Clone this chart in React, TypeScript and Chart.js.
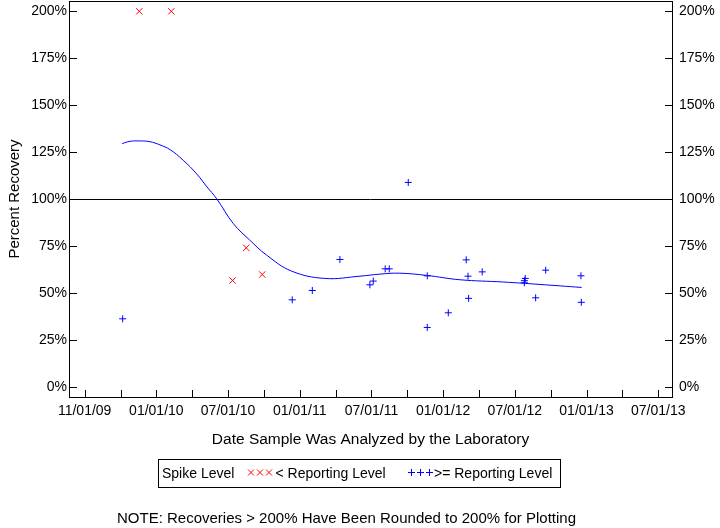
import React, { useEffect, useRef } from 'react';
import { Chart, registerables } from 'chart.js';

Chart.register(...registerables);

// X axis: positions in months from the first labelled tick; labels every 6 months
const xTickLabels = ['11/01/09', '01/01/10', '07/01/10', '01/01/11', '07/01/11', '01/01/12', '07/01/12', '01/01/13', '07/01/13'];
const xMin = -1.31;
const xMax = 49.15;
const yTickValues = [0, 25, 50, 75, 100, 125, 150, 175, 200];
const yMin = -5.32;
const yMax = 205.5;
const referenceLevel = 100;

// "< Reporting Level" (red x)
const lowMonths = [4.57, 7.25, 12.38, 13.52, 14.86];
const lowValues = [200, 200, 56.7, 74.1, 59.9];

// ">= Reporting Level" (blue +)
const highMonths = [3.18, 17.37, 19.05, 21.36, 23.87, 24.15, 25.15, 25.49, 27.08, 28.67, 28.67, 30.43, 31.93, 32.08, 32.13, 33.27, 36.79, 36.8, 36.87, 37.74, 38.58, 41.53, 41.56];
const highValues = [36.3, 46.4, 51.4, 67.9, 54.4, 56.4, 62.9, 62.9, 108.9, 59.2, 31.7, 39.5, 67.7, 59.0, 47.2, 61.3, 55.5, 56.6, 57.8, 47.5, 62.2, 59.2, 45.1];

// smoothed trend
const trendMonths = [3.15, 3.8, 4.6, 5.46, 6.3, 7.14, 8.25, 9.37, 10.2, 11.05, 12.44, 13.8, 15.23, 17.32, 20.1, 23.04, 24.71, 26.38, 28.62, 31.4, 35.03, 38.1, 41.59];
const trendValues = [129.6, 130.8, 131.0, 130.6, 128.9, 126.4, 120.7, 113.5, 106.8, 100.2, 87.0, 78.3, 70.2, 61.7, 57.8, 59.0, 60.1, 60.6, 59.4, 57.1, 55.9, 54.6, 53.0];

const FONT = "'Liberation Sans', Arial, Helvetica, sans-serif";
const RED = '#ff0000';
const BLUE = '#0000ff';

const toPoints = (xs: number[], ys: number[]) => xs.map((x, i) => ({ x, y: ys[i] }));

const framePlugin = {
  id: 'framePlugin',
  beforeDatasetsDraw(chart: any) {
    const { ctx, chartArea, scales } = chart;
    const y = Math.round(scales.y.getPixelForValue(referenceLevel)) + 0.5;
    ctx.save();
    ctx.strokeStyle = '#000';
    ctx.lineWidth = 1;
    ctx.beginPath();
    ctx.moveTo(chartArea.left, y);
    ctx.lineTo(chartArea.right, y);
    ctx.stroke();
    ctx.restore();
  },
  afterDraw(chart: any) {
    const { ctx, chartArea, scales } = chart;
    const { left, right, top, bottom } = chartArea;
    ctx.save();
    ctx.strokeStyle = '#000';
    ctx.lineWidth = 1;
    ctx.strokeRect(left + 0.5, top + 0.5, right - left, bottom - top);
    ctx.beginPath();
    scales.x.ticks.forEach((t: any) => {
      const px = Math.round(scales.x.getPixelForValue(t.value)) + 0.5;
      ctx.moveTo(px, bottom + 0.5);
      ctx.lineTo(px, bottom - 7);
    });
    scales.y.ticks.forEach((t: any) => {
      const py = Math.round(scales.y.getPixelForValue(t.value)) + 0.5;
      ctx.moveTo(left, py);
      ctx.lineTo(left + 8, py);
      ctx.moveTo(right + 1, py);
      ctx.lineTo(right - 7, py);
    });
    ctx.stroke();

    // legend box
    ctx.strokeRect(158.5, 459.5, 402, 28);
    ctx.fillStyle = '#000';
    ctx.font = `14px ${FONT}`;
    ctx.textBaseline = 'middle';
    ctx.textAlign = 'left';
    ctx.fillText('Spike Level', 162, 474);
    ctx.fillText('< Reporting Level', 275.5, 474);
    ctx.fillText('>= Reporting Level', 434, 474);
    ctx.strokeStyle = RED;
    ctx.beginPath();
    [251, 260, 269].forEach((cx) => {
      ctx.moveTo(cx - 3, 469.5);
      ctx.lineTo(cx + 3, 475.5);
      ctx.moveTo(cx + 3, 469.5);
      ctx.lineTo(cx - 3, 475.5);
    });
    ctx.stroke();
    ctx.strokeStyle = BLUE;
    ctx.beginPath();
    [411.5, 420.5, 429.5].forEach((cx) => {
      ctx.moveTo(cx - 3.5, 472.5);
      ctx.lineTo(cx + 3.5, 472.5);
      ctx.moveTo(cx, 469);
      ctx.lineTo(cx, 476);
    });
    ctx.stroke();

    // note
    ctx.fillStyle = '#000';
    ctx.font = `15px ${FONT}`;
    ctx.textAlign = 'center';
    ctx.fillText('NOTE: Recoveries > 200% Have Been Rounded to 200% for Plotting', 346.5, 519);
    ctx.restore();
  },
};

const fixedYTicks = (scale: any) => {
  scale.ticks = yTickValues.map((v) => ({ value: v }));
};

const noPad = (scale: any) => {
  scale.paddingTop = 0;
  scale.paddingBottom = 0;
  scale.paddingLeft = 0;
  scale.paddingRight = 0;
};

export default function App() {
  const ref = useRef<HTMLCanvasElement | null>(null);

  useEffect(() => {
    if (!ref.current) return;
    const chart = new Chart(ref.current, {
      type: 'scatter',
      data: {
        datasets: [
          {
            label: 'Trend',
            data: toPoints(trendMonths, trendValues),
            showLine: true,
            borderColor: BLUE,
            borderWidth: 1,
            pointRadius: 0,
            tension: 0.4,
            fill: false,
          } as any,
          {
            label: '< Reporting Level',
            data: toPoints(lowMonths, lowValues),
            pointStyle: 'crossRot',
            pointRadius: 4.5,
            borderColor: RED,
            backgroundColor: RED,
            borderWidth: 1,
          },
          {
            label: '>= Reporting Level',
            data: toPoints(highMonths, highValues),
            pointStyle: 'cross',
            pointRadius: 3.5,
            borderColor: BLUE,
            backgroundColor: BLUE,
            borderWidth: 1,
          },
        ],
      },
      options: {
        animation: false,
        responsive: false,
        devicePixelRatio: 1,
        layout: { autoPadding: false, padding: { top: 1, left: 0, right: 0, bottom: 71 } },
        plugins: { legend: { display: false }, tooltip: { enabled: false } },
        scales: {
          x: {
            type: 'linear',
            position: 'bottom',
            min: xMin,
            max: xMax,
            afterBuildTicks: (scale: any) => {
              const t = [];
              for (let m = 0; m <= 48; m += 3) t.push({ value: m });
              scale.ticks = t;
            },
            afterFit: (scale: any) => {
              scale.height = 60;
              noPad(scale);
            },
            grid: { display: false, drawTicks: false, tickLength: 0 },
            border: { display: false },
            ticks: {
              autoSkip: false,
              maxRotation: 0,
              padding: 6,
              color: '#000',
              font: { family: FONT, size: 14 },
              callback: (v: any) => (v % 6 === 0 ? xTickLabels[v / 6] : ''),
            },
            title: {
              display: true,
              text: 'Date Sample Was Analyzed by the Laboratory',
              color: '#000',
              font: { family: FONT, size: 15.5 },
              padding: { top: 0, bottom: 7.7 },
            },
          },
          y: {
            type: 'linear',
            position: 'left',
            min: yMin,
            max: yMax,
            afterBuildTicks: fixedYTicks,
            afterFit: (scale: any) => {
              scale.width = 69;
              noPad(scale);
            },
            grid: { display: false, drawTicks: false, tickLength: 0 },
            border: { display: false },
            ticks: {
              padding: 2,
              color: '#000',
              font: { family: FONT, size: 14 },
              callback: (v: any) => `${v}%`,
            },
            title: {
              display: true,
              text: 'Percent Recovery',
              color: '#000',
              font: { family: FONT, size: 15 },
              padding: { top: 6, bottom: 0 },
            },
          },
          y2: {
            type: 'linear',
            position: 'right',
            display: true,
            min: yMin,
            max: yMax,
            afterBuildTicks: fixedYTicks,
            afterFit: (scale: any) => {
              scale.width = 48;
              noPad(scale);
            },
            grid: { display: false, drawTicks: false, tickLength: 0 },
            border: { display: false },
            ticks: {
              padding: 7,
              color: '#000',
              font: { family: FONT, size: 14 },
              callback: (v: any) => `${v}%`,
            },
          },
        },
      },
      plugins: [framePlugin],
    } as any);
    return () => chart.destroy();
  }, []);

  return (
    <div style={{ position: 'fixed', left: 0, top: 0, width: 720, height: 528, background: '#fff' }}>
      <canvas ref={ref} width={720} height={528} style={{ display: 'block', width: 720, height: 528 }} />
    </div>
  );
}
